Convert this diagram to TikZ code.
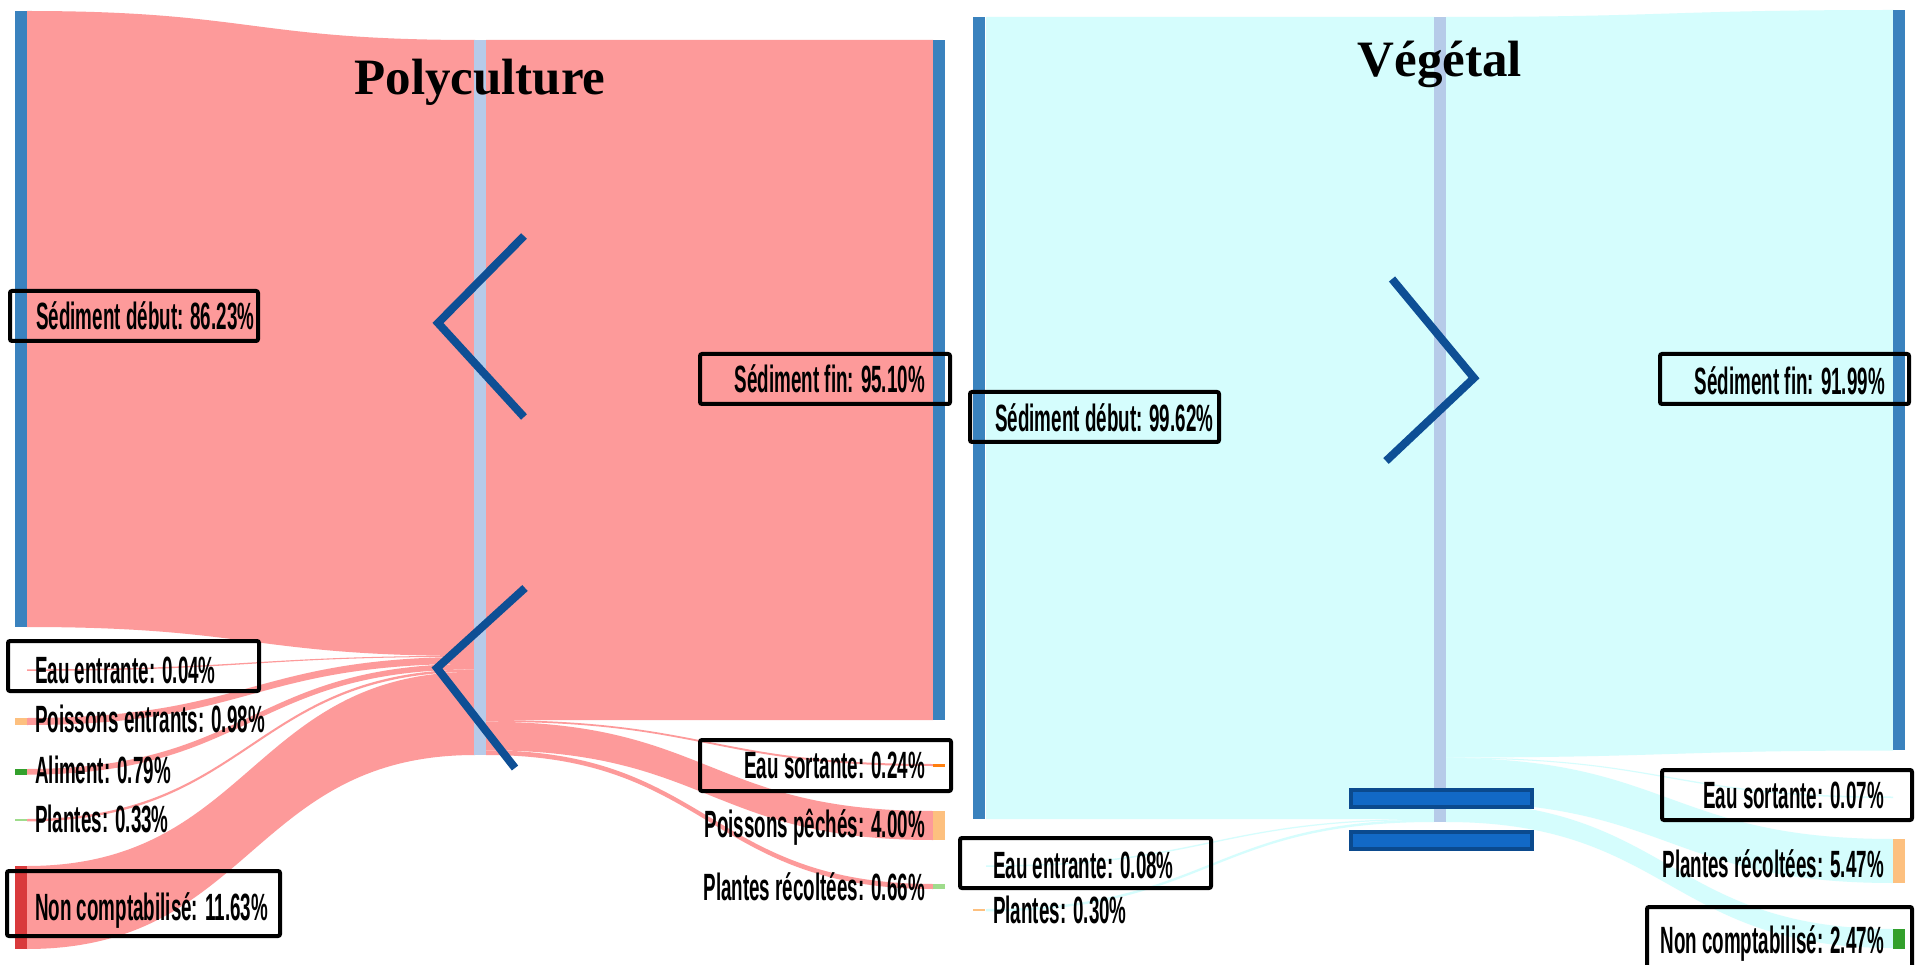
\documentclass[tikz,border=0pt]{standalone}
\usepackage{fontspec}
\setmainfont{Liberation Sans}
\newfontfamily\lblfont[FakeStretch=0.495, UprightFont={* Bold}]{Liberation Sans}
\newfontfamily\ttlfont{Liberation Serif}
\usepackage{tikz}
\definecolor{flowpink}{HTML}{FD9A9A}
\definecolor{flowcyan}{HTML}{D5FDFD}
\definecolor{barblue}{HTML}{3A82BE}
\definecolor{midblue}{HTML}{B6CBE9}
\definecolor{chevblue}{HTML}{0E4F95}
\definecolor{eqfill}{HTML}{1269C6}
\definecolor{eqline}{HTML}{0B4A8E}
\definecolor{stubred}{HTML}{D93A3C}
\definecolor{stuborange}{HTML}{FDC07F}
\definecolor{stubdkorange}{HTML}{FF7F0E}
\definecolor{stubgreen}{HTML}{33A02C}
\definecolor{stubltgreen}{HTML}{9FDC8C}
% band between two nodes: x1, top1, bot1, x2, top2, bot2
\newcommand{\band}[7][flowpink]{%
  \fill[#1] (#2,#3) .. controls ({(#2+#5)/2},#3) and ({(#2+#5)/2},#6) .. (#5,#6)
    -- (#5,#7) .. controls ({(#2+#5)/2},#7) and ({(#2+#5)/2},#4) .. (#2,#4) -- cycle;}
\tikzset{
  bar/.style={fill=barblue, inner sep=0pt, outer sep=0pt, minimum width=12pt, anchor=north west},
  midbar/.style={bar, fill=midblue},
  stub/.style={bar, fill=#1},
  chevron/.style={draw=chevblue, line width=8pt, line join=miter},
  eqbar/.style={draw=eqline, line width=4pt, fill=eqfill, inner sep=0pt, minimum width=181pt, minimum height=17pt, anchor=north west},
  lbox/.style={draw=black, line width=4pt, rounded corners=2pt},
  lbl/.style={font=\lblfont\fontsize{38}{40}\selectfont, inner sep=0pt},
  title/.style={font=\ttlfont\bfseries\fontsize{51}{55}\selectfont, inner sep=0pt, anchor=base}
}
\begin{document}
\begin{tikzpicture}[x=1pt, y=-1pt]
    \useasboundingbox (0,0) rectangle (1915,965);
    \fill[white] (0,0) rectangle (1915,965);

    % Polyculture
    \band{27}{11}{627}{475}{40}{656}
    \band{27}{669.3}{670.8}{475}{655.8}{656.8}
    \band{27}{718}{725}{475}{656.8}{663.8}
    \band{27}{769}{774.6}{475}{663.8}{669.4}
    \band{27}{819}{821.4}{475}{669.4}{671.8}
    \band{27}{866}{949}{475}{671.8}{755}
    \band{486}{40}{720}{933}{40}{720}
    \band{486}{720}{721.7}{933}{764}{766}
    \band{486}{721.7}{750.3}{933}{811}{840}
    \band{486}{750.3}{755}{933}{884}{889}

    \node[bar, minimum height=616pt] (pL) at (15,11) {};
    \node[midbar, minimum height=715pt] (pM) at (474,40) {};
    \node[bar, minimum height=680pt] (pR) at (933,40) {};
    \node[stub=stuborange, minimum height=7pt] (pPoisInS) at (15,718) {};
    \node[stub=stubgreen, minimum height=5.6pt] (pAlimS) at (15,769) {};
    \node[stub=stubltgreen, minimum height=2.4pt] (pPlInS) at (15,819) {};
    \node[stub=stubred, minimum height=83pt] (pNonCS) at (15,866) {};
    \node[stub=stubdkorange, minimum height=2.5pt] (pEauOutS) at (933,764) {};
    \node[stub=stuborange, minimum height=29pt] (pPoisOutS) at (933,811) {};
    \node[stub=stubltgreen, minimum height=5pt] (pPlOutS) at (933,884) {};

    % Vegetal
    \band[flowcyan]{986}{17}{819}{1434}{17}{819}
    \band[flowcyan]{986}{865.3}{866.8}{1434}{818.8}{820}
    \band[flowcyan]{986}{909}{911.4}{1434}{819.6}{822}
    \band[flowcyan]{1446}{17}{757.5}{1893}{10}{750.5}
    \band[flowcyan]{1446}{757.4}{758.4}{1893}{796.5}{798}
    \band[flowcyan]{1446}{758}{802}{1893}{839}{883}
    \band[flowcyan]{1446}{802}{822}{1893}{929}{948}

    \node[bar, minimum height=802pt] (vL) at (973,17) {};
    \node[midbar, minimum height=805pt] (vM) at (1434,17) {};
    \node[bar, minimum height=740pt] (vR) at (1893,10) {};
    \node[stub=stuborange, minimum height=2.4pt] (vPlInS) at (973,909) {};
    \node[stub=stuborange, minimum height=44pt] (vPlOutS) at (1893,839) {};
    \node[stub=stubgreen, minimum height=19.5pt] (vNonCS) at (1893,929) {};

    \draw[chevron] (524,236) -- (438,323) -- (524,417);
    \draw[chevron] (525,588) -- (437,668) -- (515,768);
    \draw[chevron] (1392,279) -- (1474,378) -- (1386,461);
    \node[eqbar] (eqtop) at (1349,788) {};
    \node[eqbar] (eqbot) at (1349,830) {};

    \node[title] (tPoly) at (480,95) {Polyculture};
    \node[title] (tVeg) at (1440,77) {Végétal};

    \draw[lbox] (10,291) rectangle (258,341);
    \draw[lbox] (700,354) rectangle (950,404);
    \draw[lbox] (8,641) rectangle (259,691);
    \draw[lbox] (7,871) rectangle (280,936);
    \draw[lbox] (700,740) rectangle (951,791);
    \draw[lbox] (970,392) rectangle (1219,442);
    \draw[lbox] (1660,354) rectangle (1909,404);
    \draw[lbox] (960,838) rectangle (1211,888);
    \draw[lbox] (1662,770) rectangle (1912,820);
    \draw[lbox] (1647,907) rectangle (1912,975);

    \node[lbl, anchor=base west] (pSedDeb) at (36,330) {Sédiment début: 86.23\%};
    \node[lbl, anchor=base east] (pSedFin) at (925,393) {Sédiment fin: 95.10\%};
    \node[lbl, anchor=base west] (pEauIn) at (35,683) {Eau entrante: 0.04\%};
    \node[lbl, anchor=base west] (pPoisIn) at (35,732) {Poissons entrants: 0.98\%};
    \node[lbl, anchor=base west] (pAlim) at (35,783) {Aliment: 0.79\%};
    \node[lbl, anchor=base west] (pPlIn) at (35,832) {Plantes: 0.33\%};
    \node[lbl, anchor=base west] (pNonC) at (35,920) {Non comptabilisé: 11.63\%};
    \node[lbl, anchor=base east] (pEauOut) at (925,778) {Eau sortante: 0.24\%};
    \node[lbl, anchor=base east] (pPoisOut) at (925,837) {Poissons pêchés: 4.00\%};
    \node[lbl, anchor=base east] (pPlOut) at (925,900) {Plantes récoltées: 0.66\%};

    \node[lbl, anchor=base west] (vSedDeb) at (995,432) {Sédiment début: 99.62\%};
    \node[lbl, anchor=base east] (vSedFin) at (1885,395) {Sédiment fin: 91.99\%};
    \node[lbl, anchor=base west] (vEauIn) at (993,878) {Eau entrante: 0.08\%};
    \node[lbl, anchor=base west] (vPlIn) at (993,923) {Plantes: 0.30\%};
    \node[lbl, anchor=base east] (vEauOut) at (1884,808) {Eau sortante: 0.07\%};
    \node[lbl, anchor=base east] (vPlOut) at (1884,877) {Plantes récoltées: 5.47\%};
    \node[lbl, anchor=base east] (vNonC) at (1884,953) {Non comptabilisé: 2.47\%};
\end{tikzpicture}
\end{document}
